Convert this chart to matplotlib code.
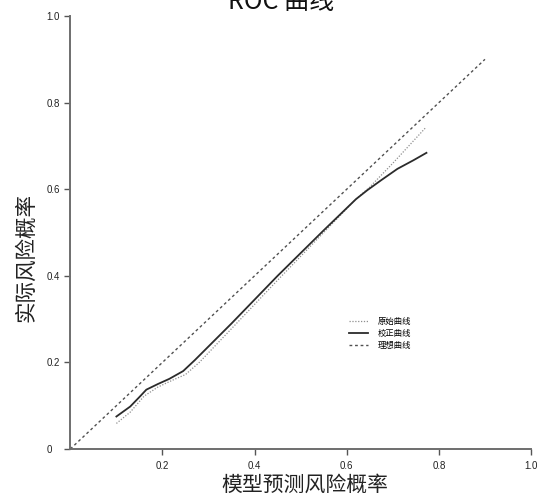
import matplotlib
matplotlib.use("Agg")
import matplotlib.pyplot as plt

plt.rcParams['font.family'] = ['Noto Sans CJK SC', 'DejaVu Sans']

# predicted vs observed risk
raw_x = [0.100, 0.130, 0.160, 0.190, 0.220, 0.250, 0.280, 0.350, 0.450, 0.550, 0.620, 0.650, 0.700, 0.772]
raw_y = [0.059, 0.085, 0.122, 0.143, 0.158, 0.172, 0.200, 0.278, 0.390, 0.500, 0.577, 0.605, 0.660, 0.743]

cal_x = [0.100, 0.130, 0.150, 0.165, 0.190, 0.215, 0.245, 0.270, 0.350, 0.450, 0.550,
         0.620, 0.645, 0.675, 0.710, 0.745, 0.773]
cal_y = [0.075, 0.098, 0.120, 0.137, 0.150, 0.162, 0.180, 0.205, 0.290, 0.400, 0.505,
         0.577, 0.598, 0.621, 0.647, 0.667, 0.684]

ideal = [0.0, 0.9]

x_ticks = [0.2, 0.4, 0.6, 0.8, 1.0]
y_ticks = [0, 0.2, 0.4, 0.6, 0.8, 1.0]
y_tick_labels = ['0', '0.2', '0.4', '0.6', '0.8', '1.0']

fig = plt.figure(figsize=(5.52, 4.96), dpi=100)
ax = fig.add_axes([0.1274, 0.0948, 0.8346, 0.8729])

ax.plot(raw_x, raw_y, color='#8f8f8f', lw=0.9, linestyle=(0, (1, 1.3)), label='原始曲线')
ax.plot(cal_x, cal_y, color='#2b2b2b', lw=1.3, label='校正曲线')
ax.plot(ideal, ideal, color='#505050', lw=1.0, linestyle=(0, (2, 2)), label='理想曲线')

ax.set_xlim(0, 1)
ax.set_ylim(0, 1)
ax.set_xticks(x_ticks)
ax.set_xticklabels([f'{t:.1f}' for t in x_ticks])
ax.set_yticks(y_ticks)
ax.set_yticklabels(y_tick_labels)

for side in ['top', 'right']:
    ax.spines[side].set_visible(False)
for side in ['left', 'bottom']:
    ax.spines[side].set_color('#6e6e6e')
    ax.spines[side].set_linewidth(1.4)

ax.tick_params(axis='both', direction='out', length=4, width=1, color='#555555',
               labelsize=7, labelcolor='#222222')
ax.tick_params(axis='x', pad=5)
ax.tick_params(axis='y', pad=13)
for lbl in ax.get_xticklabels() + ax.get_yticklabels():
    lbl.set_family(['Liberation Sans', 'DejaVu Sans'])
for lbl in ax.get_yticklabels():
    lbl.set_horizontalalignment('left')

leg = ax.legend(loc='center', bbox_to_anchor=(0.672, 0.267), frameon=False,
                fontsize=6, handlelength=2.3, handletextpad=1.1, labelspacing=0.35)

fig.text(0.509, 0.981, 'ROC 曲线', ha='center', va='baseline', fontsize=18, color='#111111')
fig.text(0.5525, 0.022, '模型预测风险概率', ha='center', va='center', fontsize=15, color='#222222')
fig.text(0.047, 0.48, '实际风险概率', ha='center', va='center', rotation=90,
         fontsize=15.5, color='#222222')

fig.savefig('out.png', dpi=100, facecolor='white')
